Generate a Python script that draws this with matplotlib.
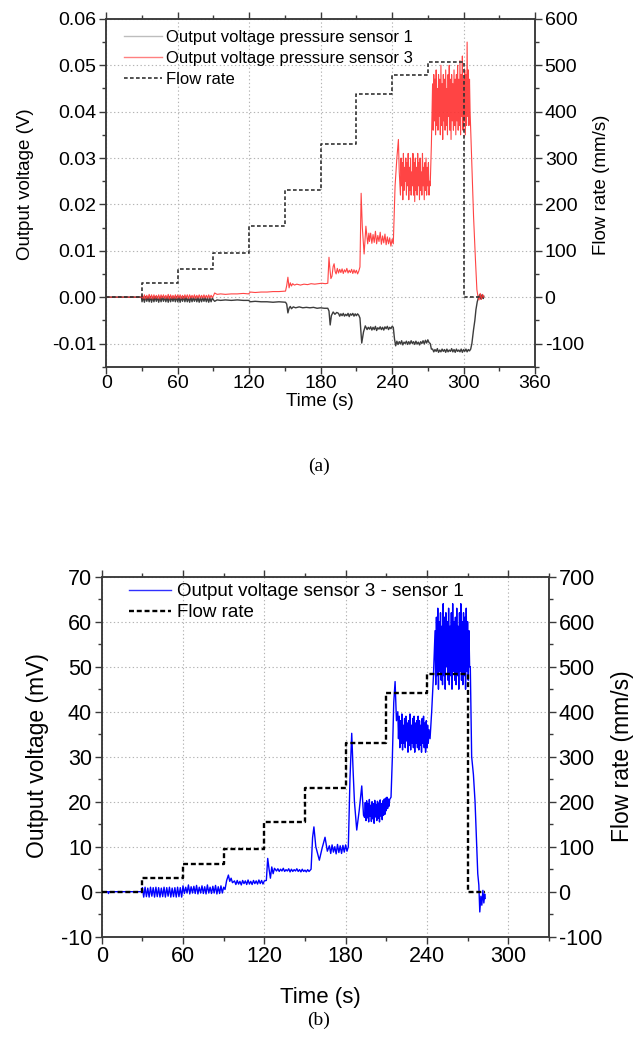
import numpy as np
import matplotlib
matplotlib.use('Agg')
import matplotlib.pyplot as plt
from matplotlib.ticker import MultipleLocator
from matplotlib.lines import Line2D

plt.rcParams['font.family'] = ['Liberation Sans', 'DejaVu Sans']
plt.rcParams['axes.unicode_minus'] = False

# ================= DATA (a) =================
# flow rate steps (mm/s)
flow_a_t = [0, 30, 60, 90, 120, 150, 180, 210, 240, 270, 300, 314]
flow_a_v = [0, 31, 60, 95, 153, 230, 330, 439, 478, 506, 0, 0]

# pressure sensor 3 (mV); knot segments (t, v) and regularly sampled noisy segments (start, step, values)
s3_k1_t = [0, 29.5]
s3_k1_v = [0, 0]
s3_z1 = (30, 1.0, [0.5, -0.3, 0.5, -0.4, 0.4, -0.3, 0.6, -0.3, 0.5, -0.4,
                   0.5, -0.3, 0.4, -0.3, 0.5, -0.4, 0.5, -0.2, 0.5, -0.3,
                   0.4, -0.3, 0.6, -0.4, 0.5, -0.3, 0.4, -0.3, 0.5, -0.3,
                   0.5, -0.2, 0.5, -0.3, 0.4, -0.3, 0.5, -0.2, 0.5, -0.3,
                   0.5, -0.2, 0.4, -0.2, 0.5, -0.3, 0.4, -0.2, 0.5, -0.2,
                   0.4, -0.2, 0.5, -0.2, 0.4, -0.2, 0.5, -0.2, 0.4, -0.1])
s3_k2_t = [90, 91, 93, 96, 100, 105, 110, 115, 119.5, 121,
           125, 130, 135, 140, 145, 150.5, 151.5, 152.5, 153.5, 154.5,
           155.5, 156.5, 158, 160, 163, 166, 169, 172, 175, 178,
           181, 184, 186, 187, 187.8, 188.6, 189.5, 190.5, 191.3, 192.2,
           193, 194]
s3_k2_v = [0.3, 0.9, 0.6, 0.7, 0.6, 0.7, 0.7, 0.8, 0.7, 1.1,
           1.0, 1.1, 1.1, 1.2, 1.2, 1.3, 2.5, 4.3, 2.0, 3.1,
           2.4, 2.9, 2.6, 2.8, 2.6, 2.8, 2.7, 2.9, 2.8, 2.9,
           3.0, 2.9, 3.0, 8.6, 6.0, 4.0, 4.5, 6.6, 7.2, 5.5,
           5.0, 6.2]
s3_z2 = (195, 1.0, [5.2, 6.0, 5.3, 6.1, 5.1, 5.9, 5.4, 6.2, 5.2, 5.8,
                    5.3, 6.0, 5.1, 5.9, 5.2, 5.8, 5.0, 5.6])
s3_k3_t = [213, 214, 215, 216.5, 218, 219.5, 220.5]
s3_k3_v = [6.5, 22.4, 15.0, 9.3, 15.3, 11.5, 13.8]
s3_z3 = (221, 1.0, [12.0, 13.8, 11.6, 13.5, 11.8, 14.2, 11.5, 13.3, 12.0, 14.0,
                    11.4, 13.2, 11.7, 13.6, 11.3, 13.0, 11.5, 12.8, 11.0, 12.5])
s3_k4_t = [241, 242.5, 244, 245.3, 246]
s3_k4_v = [11.5, 24, 30, 34, 27]
s3_z4 = (247, 0.5, [22, 30, 24, 29, 21, 31, 23, 28, 25, 30,
                    22, 29, 24, 31, 21, 28, 23, 30, 22, 27,
                    24, 31, 22, 29, 20.6, 30, 23, 28, 22, 31,
                    24, 29, 21, 30, 23, 27, 22, 31, 24, 28,
                    21, 29, 23, 30, 22, 28, 24, 29, 22, 25])
s3_k5_t = [272, 273]
s3_k5_v = [24, 33]
s3_z5 = (274, 0.5, [46, 36, 48, 38, 47, 35, 49, 37, 45, 36,
                    48, 39, 47, 35, 50, 37, 46, 34, 48, 38,
                    47, 36, 49, 37, 45, 35, 48, 39, 50, 36,
                    47, 34, 48, 38, 46, 36, 49, 37, 47, 35,
                    48, 38, 50, 36, 47, 37, 51, 35, 48, 39,
                    52, 36, 47, 38, 49, 35, 48, 37, 55, 39,
                    49, 37, 47, 40])
s3_k6_t = [306, 307, 308.4, 310, 311.2, 312, 313, 314, 315, 316, 317]
s3_k6_v = [36, 28, 17.4, 8, 1.6, 0.3, -0.6, 0.8, -0.5, 0.6, 0]

# pressure sensor 1 (mV)
s1_k1_t = [0, 29.5]
s1_k1_v = [0, 0]
s1_z1 = (30, 1.0, [-1.0, 0.0, -1.1, 0.1, -0.9, 0.0, -1.0, 0.1, -1.1, 0.0,
                   -1.0, 0.1, -0.9, 0.0, -1.1, 0.0, -1.0, 0.1, -0.9, 0.0,
                   -1.0, 0.0, -1.1, 0.1, -1.0, 0.0, -0.9, 0.0, -1.0, 0.1,
                   -1.0, 0.0, -1.1, 0.0, -0.9, 0.1, -1.0, 0.0, -1.0, -0.1,
                   -1.1, 0.0, -1.0, -0.1, -0.9, 0.0, -1.0, -0.1, -1.1, -0.1,
                   -1.0, -0.1, -0.9, -0.1, -1.0, -0.1, -1.1, -0.2, -1.0, -0.2])
s1_k2_t = [90, 91, 93, 96, 100, 105, 110, 115, 119.5, 121,
           125, 130, 135, 140, 145, 150.5, 151.5, 152.5, 153.5, 154.5,
           155.5, 157, 159, 162, 165, 168, 171, 174, 177, 180,
           183, 186, 187, 188, 189, 190.5, 192, 193.5]
s1_k2_v = [-0.6, -0.9, -0.6, -0.7, -0.6, -0.7, -0.6, -0.7, -0.7, -1.0,
           -0.9, -1.0, -1.0, -1.1, -1.0, -1.1, -1.5, -3.4, -2.4, -2.0,
           -2.5, -2.1, -2.3, -2.1, -2.3, -2.2, -2.3, -2.2, -2.4, -2.3,
           -2.4, -2.4, -3.0, -6.0, -4.0, -3.2, -3.7, -3.3]
s1_z2 = (195, 1.0, [-3.5, -4.1, -3.6, -4.0, -3.5, -4.1, -3.7, -4.0, -3.5, -4.2,
                    -3.6, -3.9, -3.5, -4.1, -3.6, -4.0, -3.6, -3.9])
s1_k3_t = [213, 214.5, 216, 217.5, 219, 220]
s1_k3_v = [-4.5, -9.9, -7.5, -6.2, -7.0, -6.5]
s1_z3 = (221, 1.0, [-6.9, -6.4, -7.1, -6.5, -7.0, -6.3, -7.2, -6.6, -6.9, -6.4,
                    -7.0, -6.5, -7.1, -6.4, -6.8, -6.3, -7.0, -6.5, -6.8, -6.3])
s1_k4_t = [241, 242, 243]
s1_k4_v = [-6.5, -9.0, -10.5]
s1_z4 = (244, 1.0, [-9.5, -10.2, -9.6, -10.1, -9.4, -10.3, -9.7, -10.0, -9.5, -10.2,
                    -9.6, -10.1, -9.4, -10.0, -9.6, -10.2, -9.5, -10.1, -9.7, -10.3,
                    -9.6, -10.0, -9.4, -10.1, -9.3, -9.9, -9.2, -9.8])
s1_k5_t = [272, 273]
s1_k5_v = [-10.0, -11.2]
s1_z5 = (274, 1.0, [-11.2, -11.8, -11.3, -11.7, -11.1, -11.9, -11.4, -11.8, -11.2, -11.7,
                    -11.3, -11.9, -11.2, -11.8, -11.4, -11.7, -11.1, -11.8, -11.3, -11.9,
                    -11.2, -11.7, -11.4, -11.8, -11.2, -11.9, -11.3, -11.7, -11.2, -11.8,
                    -11.3, -11.6])
s1_k6_t = [306, 307, 308.4, 309.5, 310.4, 311.5, 312.6, 313.5, 314.5, 315.5, 316.5, 317]
s1_k6_v = [-11.2, -10.0, -7.0, -5.0, -2.7, -1.0, 0.0, 0.5, -0.4, 0.5, -0.3, 0.2]

# ================= DATA (b) =================
flow_b_t = [0, 30, 60, 90, 120, 150, 180, 210, 240, 270, 283]
flow_b_v = [0, 31, 61, 96, 154, 231, 331, 442, 483, 0, 0]

# sensor 3 - sensor 1 (mV)
b_k1_t = [0, 4.5, 5, 5.5, 29.5]
b_k1_v = [0, 0, -0.4, 0, 0]
b_z1 = (30, 1.0, [0.9, -1.2, 1.0, -1.1, 0.8, -1.2, 1.0, -1.0, 0.9, -1.2,
                  1.0, -1.1, 0.9, -1.2, 0.8, -1.1, 1.0, -1.2, 0.9, -1.0,
                  1.0, -1.2, 0.8, -1.1, 0.9, -1.2, 1.0, -1.1, 0.9, -1.2])
b_z2 = (60, 1.0, [1.3, -0.4, 1.0, -0.3, 1.5, -0.5, 1.1, -0.3, 1.2, -0.4,
                  1.4, -0.5, 1.0, -0.3, 1.3, -0.4, 1.1, -0.5, 1.5, -0.3,
                  1.0, -0.4, 1.2, -0.3, 1.4, -0.5, 1.1, -0.4, 1.3, -0.3,
                  1.0])
b_k2_t = [91, 92.2, 93.5, 94.5, 95.5, 96.5]
b_k2_v = [0.5, 2.5, 3.7, 2.3, 3.0, 2.0]
b_z3 = (98, 1.0, [2.4, 1.6, 2.5, 1.7, 2.3, 1.5, 2.5, 1.8, 2.4, 1.6,
                  2.6, 1.7, 2.3, 1.6, 2.5, 1.8, 2.4, 1.7, 2.6, 1.8,
                  2.5, 1.7, 2.4])
b_k3_t = [121.5, 122.5, 123.5, 124.5, 125.5, 126.5, 127.5]
b_k3_v = [2.5, 7.4, 5.0, 3.0, 5.5, 4.0, 5.2]
b_z4 = (129, 1.0, [4.6, 5.1, 4.5, 5.0, 4.6, 5.2, 4.5, 4.9, 4.6, 5.1,
                   4.4, 5.0, 4.5, 4.9, 4.6, 5.1, 4.5, 4.9, 4.4, 5.0,
                   4.5, 4.8, 4.4, 4.9, 4.5])
b_k4_t = [154.5, 155.6, 156.6, 158, 160.6, 162.5, 164.8, 166.5, 168]
b_k4_v = [5.0, 12.0, 14.4, 10.0, 7.0, 9.5, 12.1, 9.0, 10.2]
b_z5 = (169, 1.0, [8.5, 10.4, 8.8, 10.0, 8.4, 10.5, 8.7, 10.2, 8.5, 10.3,
                   8.8, 10.4, 9.0])
b_k5_t = [182, 183.2, 184.5, 185.5, 186.5, 188.2, 190, 191.9, 193.2]
b_k5_v = [10.0, 25, 35.2, 27, 20, 13.7, 18, 23.5, 17]
b_z6 = (194, 0.5, [16.5, 19.8, 15.8, 20.2, 16.4, 19.5, 15.5, 20.5, 16.8, 19.2,
                   15.6, 20.0, 16.2, 19.6, 15.2, 20.3, 16.6, 19.4, 15.8, 20.1,
                   16.3, 19.7, 15.5, 20.4, 16.8, 19.6, 16.0, 20.2, 17.0, 20.6,
                   17.2, 20.8, 18.0, 21.0, 18.5, 20.6, 19.0, 20.5])
b_k6_t = [213.5, 214.5, 215.5, 216.5, 217.5, 218.5]
b_k6_v = [21.0, 30, 42, 46.7, 38, 40]
b_z7 = (219, 0.5, [34, 39, 32, 38, 33, 39.5, 31.5, 37, 33, 38.5,
                   32, 39, 33.5, 37.5, 31, 38, 32.5, 39.5, 31.5, 37,
                   33, 38.5, 32, 39, 31, 37.5, 33, 38, 32, 39,
                   31.5, 38, 32.5, 37, 31, 38.5, 33, 39, 32, 37.5,
                   31, 38, 32, 37, 33, 36])
b_k7_t = [242.3, 243.5, 244.8]
b_k7_v = [34, 40, 48]
b_z8 = (246, 0.5, [58, 46, 61, 48, 63, 45, 60, 49, 62, 47,
                   59, 46, 64, 48, 61, 45, 62, 50, 60, 47,
                   63, 46, 59, 48, 62, 45, 64, 49, 60, 47,
                   61, 46, 63, 48, 59, 45, 62, 49, 64, 47,
                   60, 46, 62, 48, 61, 45, 63, 49, 60, 47,
                   58, 50])
b_k8_t = [272, 273, 274.3, 275.5, 276.5, 277.5, 278.3, 279, 279.8, 280.5, 281.3, 282, 282.6, 283]
b_k8_v = [50, 30, 26, 20, 12, 4, 1.5, -4.5, -1, -3, 0.3, -2.5, -0.5, -1.5]


def build(*parts):
    t_all, v_all = [], []
    for p in parts:
        if len(p) == 3:
            start, step, vals = p
            t = list(start + np.arange(len(vals)) * step)
            v = list(vals)
        else:
            t, v = p
        assert len(t) == len(v)
        t_all.extend(t)
        v_all.extend(v)
    return np.array(t_all, float), np.array(v_all, float)


s3_t, s3_v = build((s3_k1_t, s3_k1_v), s3_z1, (s3_k2_t, s3_k2_v), s3_z2,
                   (s3_k3_t, s3_k3_v), s3_z3, (s3_k4_t, s3_k4_v), s3_z4,
                   (s3_k5_t, s3_k5_v), s3_z5, (s3_k6_t, s3_k6_v))
s1_t, s1_v = build((s1_k1_t, s1_k1_v), s1_z1, (s1_k2_t, s1_k2_v), s1_z2,
                   (s1_k3_t, s1_k3_v), s1_z3, (s1_k4_t, s1_k4_v), s1_z4,
                   (s1_k5_t, s1_k5_v), s1_z5, (s1_k6_t, s1_k6_v))
b_t, b_v = build((b_k1_t, b_k1_v), b_z1, b_z2, (b_k2_t, b_k2_v), b_z3,
                 (b_k3_t, b_k3_v), b_z4, (b_k4_t, b_k4_v), b_z5,
                 (b_k5_t, b_k5_v), b_z6, (b_k6_t, b_k6_v), b_z7,
                 (b_k7_t, b_k7_v), b_z8, (b_k8_t, b_k8_v))

# ================= FIGURE =================
W, H = 638, 1052
fig = plt.figure(figsize=(W / 100, H / 100), dpi=100)
SP = '#3a3a3a'
GRID = dict(color='#b4b4b4', linestyle=(0, (1.2, 2.2)), linewidth=0.8)


def px_axes(x0, y0, x1, y1):
    return fig.add_axes([x0 / W, 1 - y1 / H, (x1 - x0) / W, (y1 - y0) / H])


def style(ax, fs):
    for s in ax.spines.values():
        s.set_color(SP)
        s.set_linewidth(1.1)
    ax.tick_params(which='major', direction='out', length=5, width=1.0,
                   color=SP, labelsize=fs, pad=2)
    ax.tick_params(which='minor', direction='out', length=3, width=1.0, color=SP)


# ---------- panel (a) ----------
ax = px_axes(106.3, 18.9, 535.0, 366.7)
ax.plot(s1_t, s1_v / 1000, color='#3c3c3c', lw=1.0, zorder=3)
ax.plot(s3_t, s3_v / 1000, color='#ff3030', lw=0.8, alpha=0.9, zorder=4)
ax.set_xlim(0, 360)
ax.set_ylim(-0.015, 0.06)
ax.xaxis.set_major_locator(MultipleLocator(60))
ax.xaxis.set_minor_locator(MultipleLocator(30))
ax.yaxis.set_major_locator(MultipleLocator(0.01))
ax.yaxis.set_minor_locator(MultipleLocator(0.005))
ax.yaxis.set_major_formatter(plt.FuncFormatter(lambda v, p: f'{v:.2f}'))
ax.grid(True, which='major', **GRID)
ax.set_axisbelow(True)
style(ax, 14)
ax.tick_params(top=True, which='both')
ax.tick_params(axis='x', which='major', pad=1)

ax2 = ax.twinx()
ax2.plot(flow_a_t, flow_a_v, drawstyle='steps-post', color='#333333', lw=1.2,
         linestyle=(0, (2.2, 1.4)), zorder=5)
ax2.set_ylim(-150, 600)
ax2.yaxis.set_major_locator(MultipleLocator(100))
ax2.yaxis.set_minor_locator(MultipleLocator(50))
style(ax2, 14)

handles = [Line2D([], [], color='#bdbdbd', lw=1.0),
           Line2D([], [], color='#ff8080', lw=1.0),
           Line2D([], [], color='#333333', lw=1.2, linestyle=(0, (2.2, 1.4)))]
ax2.legend(handles, ['Output voltage pressure sensor 1', 'Output voltage pressure sensor 3', 'Flow rate'],
           loc='upper left', bbox_to_anchor=(124 / W, 1 - 30 / H), bbox_transform=fig.transFigure,
           frameon=False, fontsize=12, handlelength=2.25, handletextpad=0.3,
           labelspacing=0.36, borderpad=0, borderaxespad=0)

fig.text(320 / W, 1 - 401 / H, 'Time (s)', ha='center', va='center', fontsize=13.5)
fig.text(25 / W, 1 - 184 / H, 'Output voltage (V)', ha='center', va='center', rotation=90, fontsize=13.5)
fig.text(601 / W, 1 - 185 / H, 'Flow rate (mm/s)', ha='center', va='center', rotation=90, fontsize=13.5)
fig.text(319 / W, 1 - 466 / H, '(a)', ha='center', va='center', fontsize=14, family='Liberation Serif')

# ---------- panel (b) ----------
bx = px_axes(101.7, 576.7, 548.9, 936.7)
bx.plot(b_t, b_v, color='#0000ff', lw=1.0, zorder=3)
bx.set_xlim(0, 330)
bx.set_ylim(-10, 70)
bx.xaxis.set_major_locator(MultipleLocator(60))
bx.xaxis.set_minor_locator(MultipleLocator(30))
bx.yaxis.set_major_locator(MultipleLocator(10))
bx.yaxis.set_minor_locator(MultipleLocator(5))
bx.grid(True, which='major', **GRID)
bx.set_axisbelow(True)
style(bx, 15.5)
bx.tick_params(top=True, which='both')

bx2 = bx.twinx()
bx2.plot(flow_b_t, flow_b_v, drawstyle='steps-post', color='black', lw=1.7,
         linestyle=(0, (2.1, 1.2)), zorder=5)
bx2.set_ylim(-100, 700)
bx2.yaxis.set_major_locator(MultipleLocator(100))
bx2.yaxis.set_minor_locator(MultipleLocator(50))
style(bx2, 15.5)

handles_b = [Line2D([], [], color='#3030ff', lw=1.0),
             Line2D([], [], color='black', lw=1.7, linestyle=(0, (2.1, 1.2)))]
bx2.legend(handles_b, ['Output voltage sensor 3 - sensor 1', 'Flow rate'],
           loc='upper left', bbox_to_anchor=(129 / W, 1 - 583 / H), bbox_transform=fig.transFigure,
           frameon=False, fontsize=13.5, handlelength=2.25, handletextpad=0.3,
           labelspacing=0.22, borderpad=0, borderaxespad=0)

fig.text(320 / W, 1 - 997 / H, 'Time (s)', ha='center', va='center', fontsize=16)
fig.text(38 / W, 1 - 756 / H, 'Output voltage (mV)', ha='center', va='center', rotation=90, fontsize=16.5)
fig.text(623 / W, 1 - 756 / H, 'Flow rate (mm/s)', ha='center', va='center', rotation=90, fontsize=16.5)
fig.text(319 / W, 1 - 1020 / H, '(b)', ha='center', va='center', fontsize=14, family='Liberation Serif')

fig.savefig('out.png', dpi=100)
